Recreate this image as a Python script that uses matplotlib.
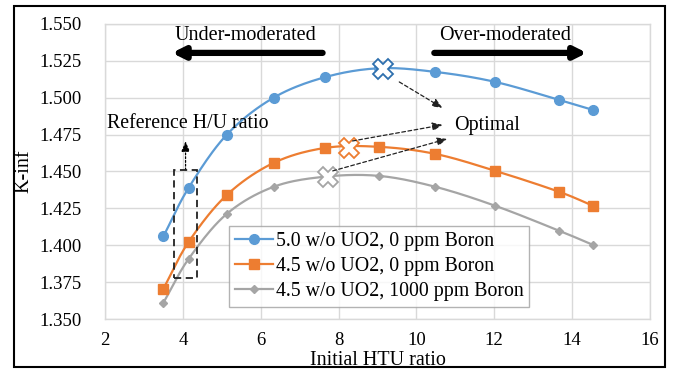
import numpy as np
import matplotlib
matplotlib.use("Agg")
import matplotlib.pyplot as plt
from matplotlib.patches import Rectangle

plt.rcParams['font.family'] = ['Liberation Serif', 'DejaVu Serif']

# ---- data ----
htu = [3.5, 4.15, 5.13, 6.33, 7.66, 9.05, 10.49, 12.03, 13.67, 14.54]
k_50_0 = [1.406, 1.439, 1.475, 1.500, 1.514, 1.520, 1.5175, 1.5107, 1.4985, 1.4917]
k_45_0 = [1.3705, 1.4023, 1.4341, 1.4558, 1.466, 1.4667, 1.4619, 1.4504, 1.4362, 1.4267]
k_45_1000 = [1.361, 1.3908, 1.4213, 1.4396, 1.4465, 1.447, 1.4396, 1.4267, 1.4098, 1.4002]
labels = ["5.0 w/o UO2, 0 ppm Boron", "4.5 w/o UO2, 0 ppm Boron", "4.5 w/o UO2, 1000 ppm Boron"]
opt_x = [9.13, 8.26, 7.74]
opt_y = [1.5195, 1.466, 1.4463]
xticks = [2, 4, 6, 8, 10, 12, 14, 16]
yticks = [1.350, 1.375, 1.400, 1.425, 1.450, 1.475, 1.500, 1.525, 1.550]

colors = ['#5b9bd5', '#ed7d31', '#a5a5a5']
markers = ['o', 's', 'D']
msizes = [7, 7, 4.5]


def smooth(x, y, n=20):
    x = np.asarray(x, float); y = np.asarray(y, float)
    px = np.concatenate([[2 * x[0] - x[1]], x, [2 * x[-1] - x[-2]]])
    py = np.concatenate([[2 * y[0] - y[1]], y, [2 * y[-1] - y[-2]]])
    xs, ys = [], []
    for i in range(1, len(px) - 2):
        t = np.linspace(0, 1, n, endpoint=False)
        for arr, out in ((px, xs), (py, ys)):
            p0, p1, p2, p3 = arr[i - 1], arr[i], arr[i + 1], arr[i + 2]
            out.extend(0.5 * ((2 * p1) + (-p0 + p2) * t + (2 * p0 - 5 * p1 + 4 * p2 - p3) * t ** 2
                              + (-p0 + 3 * p1 - 3 * p2 + p3) * t ** 3))
    xs.append(x[-1]); ys.append(y[-1])
    return np.array(xs), np.array(ys)


fig = plt.figure(figsize=(6.76, 3.69), dpi=100)
ax = fig.add_axes([0.1553, 0.1355, 0.8062, 0.7995])

series = [k_50_0, k_45_0, k_45_1000]
handles = []
for ys_, c, m, ms, lab in zip(series, colors, markers, msizes, labels):
    sx, sy = smooth(htu, ys_)
    ax.plot(sx, sy, color=c, lw=1.6, zorder=3)
    ax.plot(htu, ys_, linestyle='none', marker=m, color=c, ms=ms, zorder=4)
    h, = ax.plot([], [], color=c, lw=1.6, marker=m, ms=ms, label=lab)
    handles.append(h)

edgecols = ['#2e6fae', '#ed7d31', '#a5a5a5']
for ox, oy, ec in zip(opt_x, opt_y, edgecols):
    ax.plot([ox], [oy], marker='X', ms=15, mfc='white', mec=ec, mew=1.3, zorder=6, linestyle='none')

ax.set_xlim(2, 16)
ax.set_ylim(1.350, 1.550)
ax.set_xticks(xticks)
ax.set_yticks(yticks)
ax.set_yticklabels([f"{v:.3f}" for v in yticks])
ax.grid(True, color='#d9d9d9', lw=1.0, zorder=0)
ax.set_axisbelow(True)
for s in ax.spines.values():
    s.set_color('#d9d9d9')
    s.set_linewidth(1.0)
ax.tick_params(axis='both', length=0, labelsize=13.5, colors='black')
ax.tick_params(axis='y', pad=17)
ax.tick_params(axis='x', pad=9)
ax.set_xlabel("Initial HTU ratio", fontsize=14.5, labelpad=1.5)
ax.set_ylabel("K-inf", fontsize=14.5, labelpad=4)

leg = ax.legend(handles=handles, loc='lower left', bbox_to_anchor=(0.2275, 0.04),
                borderaxespad=0, fontsize=14.3, handlelength=1.9, handletextpad=0.15,
                frameon=True, fancybox=False, edgecolor='#a0a0a0', labelspacing=0.3,
                borderpad=0.3)
leg.get_frame().set_linewidth(1.0)

# big direction arrows
ax.annotate("", xy=(3.72, 1.5304), xytext=(7.59, 1.5304),
            arrowprops=dict(arrowstyle='-|>,head_length=0.7,head_width=0.35', color='black', lw=4.5,
                            shrinkA=0, shrinkB=0))
ax.annotate("", xy=(14.38, 1.5304), xytext=(10.46, 1.5304),
            arrowprops=dict(arrowstyle='-|>,head_length=0.7,head_width=0.35', color='black', lw=4.5,
                            shrinkA=0, shrinkB=0))
ax.text(5.62, 1.5425, "Under-moderated", fontsize=14.5, ha='center', va='center')
ax.text(12.28, 1.5425, "Over-moderated", fontsize=14.5, ha='center', va='center')

# optimal arrows
arrow_starts = [(9.56, 1.5107), (8.36, 1.4707), (7.85, 1.4504)]
arrow_ends = [(10.67, 1.4931), (10.67, 1.4816), (10.79, 1.4721)]
for st, en in zip(arrow_starts, arrow_ends):
    ax.annotate("", xy=en, xytext=st,
                arrowprops=dict(arrowstyle='-|>,head_length=0.6,head_width=0.25', color='#222222',
                                lw=0.9, linestyle=(0, (3, 2)), shrinkA=0, shrinkB=0), zorder=7)
ax.text(10.97, 1.4809, "Optimal", fontsize=14.5, ha='left', va='center')

# reference H/U ratio box
ax.add_patch(Rectangle((3.77, 1.3779), 4.36 - 3.77, 1.4511 - 1.3779, fill=False,
                       edgecolor='#222222', lw=1.3, linestyle=(0, (4, 2.5)), zorder=5))
ax.annotate("", xy=(4.07, 1.4705), xytext=(4.07, 1.4511),
            arrowprops=dict(arrowstyle='-|>,head_length=0.6,head_width=0.25', color='black',
                            lw=0.9, linestyle=(0, (1.5, 1.5)), shrinkA=0, shrinkB=0))
ax.text(2.05, 1.4823, "Reference H/U ratio", fontsize=14.3, ha='left', va='center')

# figure border
fig.patches.append(Rectangle((0.0207, 0.005), 0.963, 0.979, transform=fig.transFigure,
                             fill=False, edgecolor='black', lw=1.5))

fig.savefig("out.png", dpi=100)
